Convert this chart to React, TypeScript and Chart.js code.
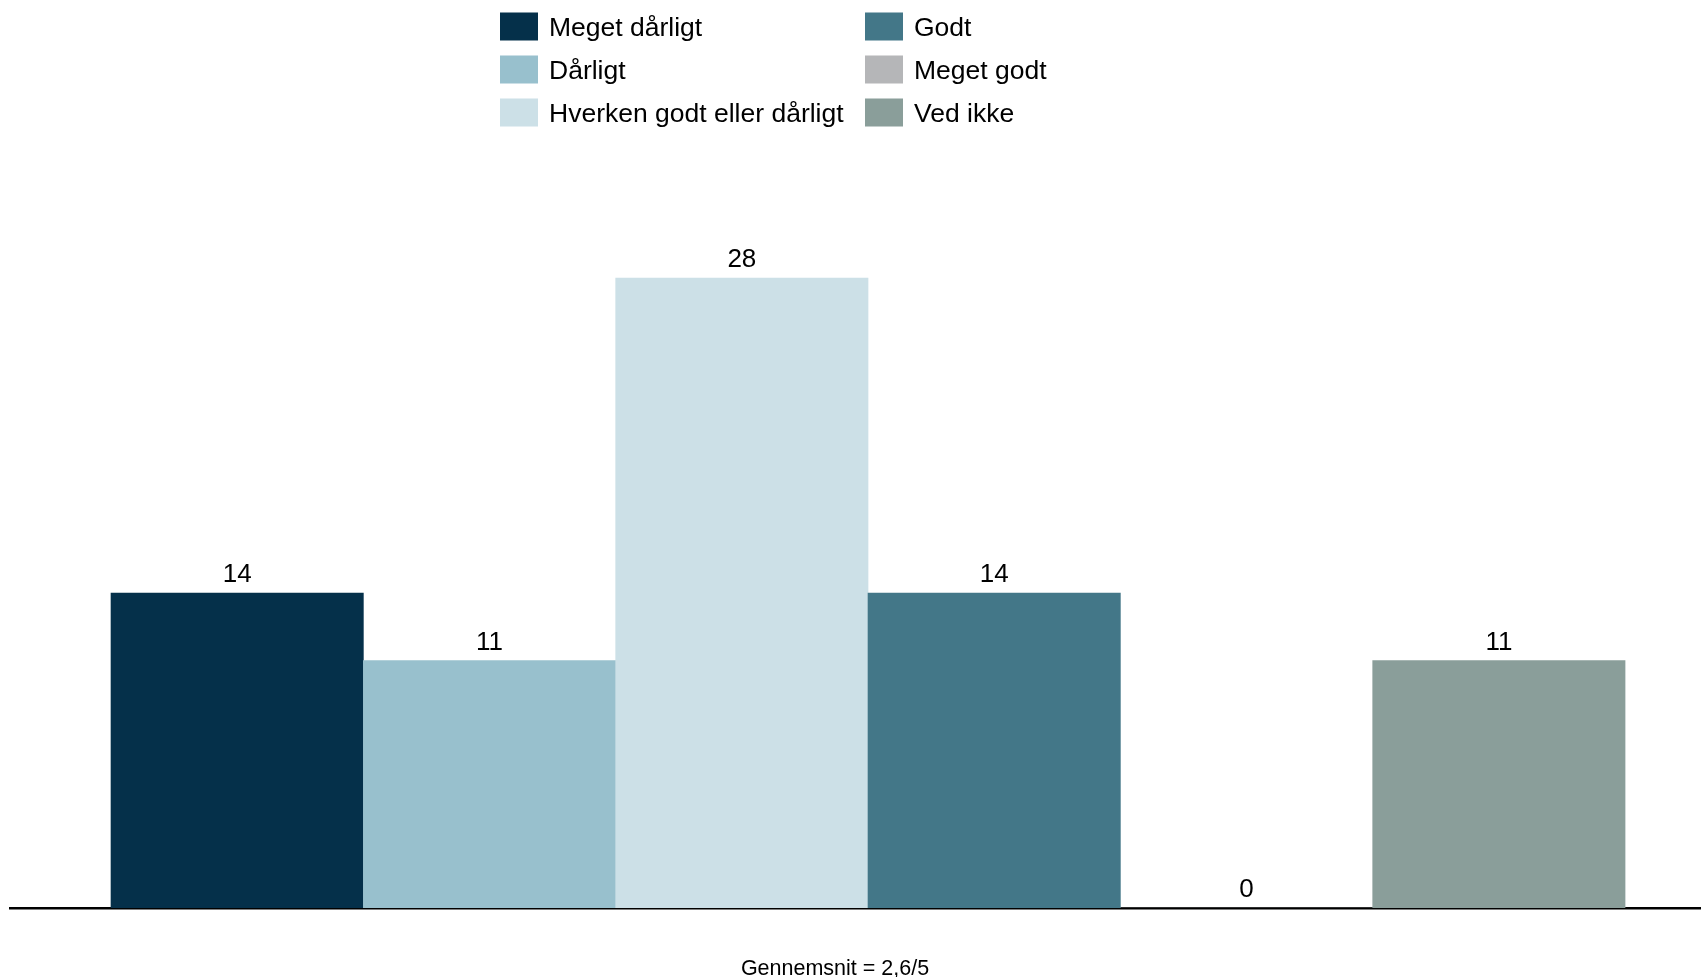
import React, { useEffect, useRef } from "react";
import { Chart, registerables } from "chart.js";

Chart.register(...registerables);

const categories = [
  "Meget dårligt",
  "Dårligt",
  "Hverken godt eller dårligt",
  "Godt",
  "Meget godt",
  "Ved ikke",
];
const values = [14, 11, 28, 14, 0, 11];
const colors = ["#05304A", "#98C0CD", "#CCE0E7", "#437788", "#B5B6B8", "#8A9E9A"];
const averageText = "Gennemsnit = 2,6/5";

const FONT = "'Liberation Sans', Arial, Helvetica, sans-serif";

const valueLabelPlugin = {
  id: "valueLabels",
  afterDatasetsDraw(chart: any, _args: any, opts: any) {
    const ctx = chart.ctx;
    ctx.save();
    ctx.font = `${opts.size}px ${FONT}`;
    ctx.fillStyle = "#000";
    ctx.textAlign = "center";
    ctx.textBaseline = "alphabetic";
    chart.data.datasets.forEach((ds: any, di: number) => {
      const meta = chart.getDatasetMeta(di);
      meta.data.forEach((el: any, i: number) => {
        const v = ds.data[i].y;
        ctx.fillText(String(v), el.x, el.y - opts.gap);
      });
    });
    ctx.restore();
  },
};

const gridLegendPlugin = {
  id: "gridLegend",
  afterDraw(chart: any, _args: any, opts: any) {
    const ctx = chart.ctx;
    const labels: string[] = chart.data.labels;
    const bg: string[] = chart.data.datasets[0].backgroundColor;
    ctx.save();
    ctx.font = `${opts.size}px ${FONT}`;
    ctx.textAlign = "left";
    ctx.textBaseline = "middle";
    labels.forEach((lab, i) => {
      const col = Math.floor(i / opts.rows);
      const row = i % opts.rows;
      const x = opts.columns[col];
      const top = opts.top + row * opts.pitch;
      ctx.fillStyle = bg[i];
      ctx.fillRect(x, top, opts.boxW, opts.boxH);
      ctx.fillStyle = "#000";
      ctx.fillText(lab, x + opts.textOffset, top + opts.boxH / 2 + 2);
    });
    ctx.restore();
  },
};

const footnotePlugin = {
  id: "footnote",
  afterDraw(chart: any, _args: any, opts: any) {
    const ctx = chart.ctx;
    ctx.save();
    ctx.font = `${opts.size}px ${FONT}`;
    ctx.fillStyle = "#000";
    ctx.textAlign = "center";
    ctx.textBaseline = "alphabetic";
    ctx.fillText(opts.text, opts.x, opts.y);
    ctx.restore();
  },
};

export default function App() {
  const ref = useRef<HTMLCanvasElement | null>(null);

  useEffect(() => {
    if (!ref.current) return;
    const chart = new Chart(ref.current, {
      type: "bar",
      data: {
        labels: categories,
        datasets: [
          {
            label: "Andel",
            data: values.map((v, i) => ({ x: i, y: v })),
            backgroundColor: colors,
            borderWidth: 0,
            barPercentage: 1,
            categoryPercentage: 1,
          },
        ],
      },
      plugins: [valueLabelPlugin, gridLegendPlugin, footnotePlugin],
      options: {
        responsive: false,
        animation: false,
        events: [],
        layout: { padding: { top: 143, bottom: 69, left: 10, right: 0 } },
        scales: {
          x: {
            type: "linear",
            min: -0.9003,
            max: 5.801,
            offset: false,
            z: 1,
            ticks: { display: false, stepSize: 1, includeBounds: false },
            grid: { display: false, drawTicks: false, offset: false },
            border: { display: true, color: "#000", width: 2.5 },
          },
          y: {
            display: false,
            min: 0,
            max: 34,
          },
        },
        plugins: {
          legend: { display: false },
          tooltip: { enabled: false },
          valueLabels: { size: 26, gap: 11 },
          gridLegend: {
            size: 26.5,
            rows: 3,
            columns: [500, 865],
            top: 12.5,
            pitch: 43,
            boxW: 38,
            boxH: 28,
            textOffset: 49,
          },
          footnote: { text: averageText, size: 21.5, x: 835, y: 975 },
        } as any,
      },
    } as any);
    return () => chart.destroy();
  }, []);

  return (
    <div style={{ position: "fixed", left: 0, top: 0, width: 1701, height: 977, background: "#fff" }}>
      <canvas ref={ref} width={1701} height={977} style={{ display: "block" }} />
    </div>
  );
}
